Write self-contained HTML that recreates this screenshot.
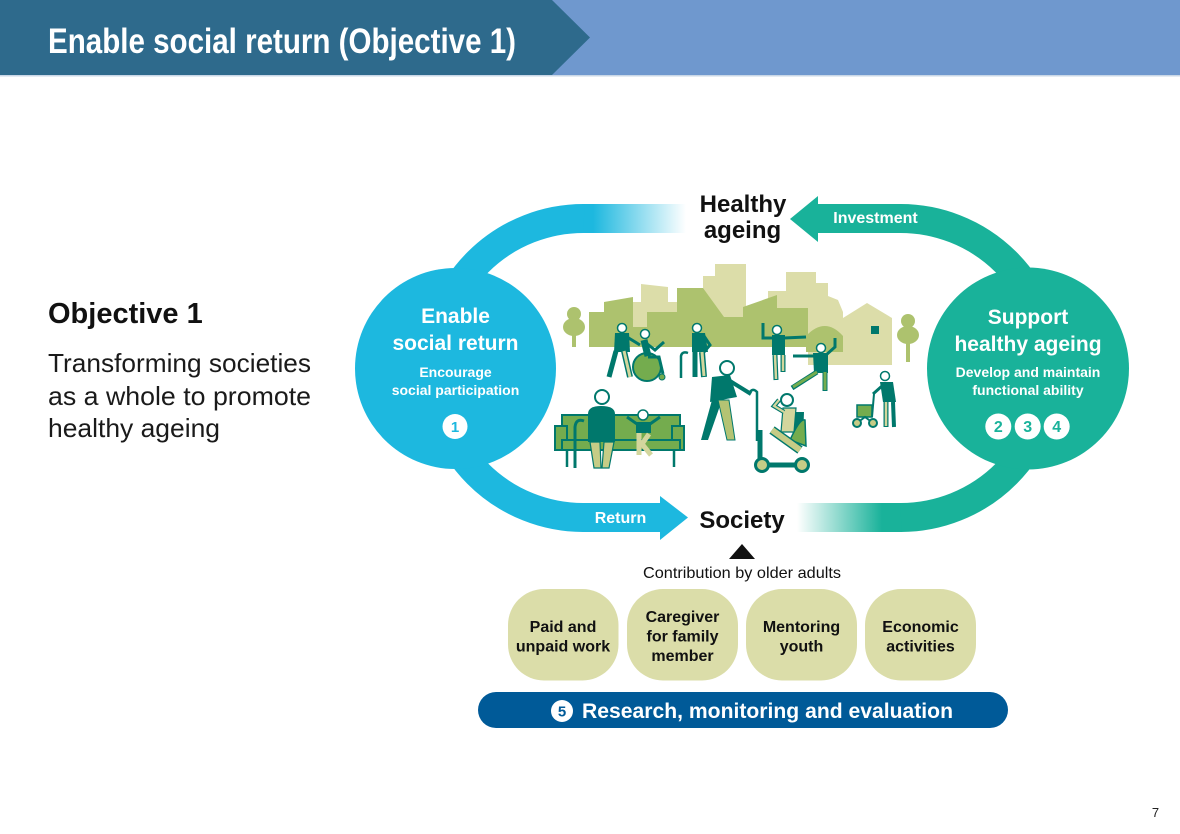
<!DOCTYPE html>
<html>
<head>
<meta charset="utf-8">
<style>
html,body{margin:0;padding:0;background:#fff;}
body{width:1180px;height:834px;overflow:hidden;}
svg{display:block;font-family:"Liberation Sans",Arial,sans-serif;}
</style>
</head>
<body>
<svg width="1180" height="834" viewBox="0 0 1180 834" xmlns="http://www.w3.org/2000/svg">
<defs>
<linearGradient id="gCyan" x1="593" y1="0" x2="686" y2="0" gradientUnits="userSpaceOnUse">
<stop offset="0" stop-color="#1db8df"/>
<stop offset="1" stop-color="#ffffff"/>
</linearGradient>
<linearGradient id="gTeal" x1="797" y1="0" x2="882" y2="0" gradientUnits="userSpaceOnUse">
<stop offset="0" stop-color="#ffffff"/>
<stop offset="1" stop-color="#19b29a"/>
</linearGradient>
</defs>

<!-- Header -->
<rect x="0" y="0" width="1180" height="75" fill="#6f98ce"/>
<polygon points="0,0 552,0 590,37.5 552,75 0,75" fill="#2e6a8c"/>
<rect x="0" y="75" width="1180" height="1.5" fill="#c9d7e7"/>
<text x="48" y="53" font-size="35" font-weight="bold" fill="#ffffff" textLength="468" lengthAdjust="spacingAndGlyphs">Enable social return (Objective 1)</text>

<!-- Left text -->
<text x="48" y="323" font-size="29" font-weight="bold" fill="#111">Objective 1</text>
<text x="48" y="372" font-size="26" fill="#1a1a1a" textLength="263" lengthAdjust="spacingAndGlyphs">Transforming societies</text>
<text x="48" y="405" font-size="26" fill="#1a1a1a" textLength="263" lengthAdjust="spacingAndGlyphs">as a whole to promote</text>
<text x="48" y="437" font-size="26" fill="#1a1a1a" textLength="172" lengthAdjust="spacingAndGlyphs">healthy ageing</text>

<!-- Cyan loop -->
<rect x="582" y="204" width="105" height="29" fill="url(#gCyan)"/>
<path d="M584 218.5 A149.5 149.5 0 0 0 583 517.5 L662 517.5" fill="none" stroke="#1db8df" stroke-width="29"/>
<polygon points="660,496 688,517.5 660,540" fill="#1db8df"/>

<!-- Teal loop -->
<rect x="797" y="503" width="105" height="29" fill="url(#gTeal)"/>
<path d="M816 218.5 L900 218.5 A149.5 149.5 0 0 1 901 517.5" fill="none" stroke="#19b29a" stroke-width="29"/>
<polygon points="790,219 818,196 818,242" fill="#19b29a"/>

<!-- Circles -->
<circle cx="455.5" cy="368.5" r="100.5" fill="#1db8df"/>
<circle cx="1028" cy="368.5" r="101" fill="#19b29a"/>

<!-- Left circle text -->
<g fill="#fff" font-weight="bold" text-anchor="middle">
<text x="455.5" y="323" font-size="21">Enable</text>
<text x="455.5" y="350" font-size="21">social return</text>
<text x="455.5" y="377" font-size="14">Encourage</text>
<text x="455.5" y="395" font-size="14">social participation</text>
</g>
<circle cx="455" cy="426.5" r="12.5" fill="#fff"/>
<text x="455" y="432" font-size="15" font-weight="bold" fill="#1db8df" text-anchor="middle">1</text>

<!-- Right circle text -->
<g fill="#fff" font-weight="bold" text-anchor="middle">
<text x="1028" y="324" font-size="21">Support</text>
<text x="1028" y="351" font-size="21">healthy ageing</text>
<text x="1028" y="377" font-size="14">Develop and maintain</text>
<text x="1028" y="395" font-size="14">functional ability</text>
</g>
<circle cx="998.3" cy="426.5" r="13" fill="#fff"/>
<circle cx="1027.7" cy="426.5" r="13" fill="#fff"/>
<circle cx="1056.7" cy="426.5" r="13" fill="#fff"/>
<g fill="#19b29a" font-size="16" font-weight="bold" text-anchor="middle">
<text x="998.3" y="432">2</text>
<text x="1027.7" y="432">3</text>
<text x="1056.7" y="432">4</text>
</g>

<!-- Labels on arrows -->
<text x="620.5" y="523" font-size="16" font-weight="bold" fill="#fff" text-anchor="middle">Return</text>
<text x="875.5" y="223" font-size="16" font-weight="bold" fill="#fff" text-anchor="middle">Investment</text>

<text x="743" y="212" font-size="24" font-weight="bold" fill="#111" text-anchor="middle">Healthy</text>
<text x="742.5" y="238" font-size="24" font-weight="bold" fill="#111" text-anchor="middle">ageing</text>
<text x="742" y="528" font-size="24" font-weight="bold" fill="#111" text-anchor="middle">Society</text>

<!-- Illustration: skyline -->
<g fill="#dcdda9">
<polygon points="633,302 641,302 641,284 668,287 668,302 677,302 677,327 633,327"/>
<polygon points="703,276 715,276 715,264 746,264 746,318 703,318"/>
<polygon points="768,291 786,291 786,272 816,272 816,283 828,283 828,296 838,300 843,312 843,365 808,365 808,345 768,345"/>
<polygon points="843,318 867,303 892,318 892,365 843,365"/>
</g>
<rect x="871" y="326" width="8" height="8" fill="#00786c"/>
<g fill="#adc26e">
<polygon points="589,347 589,312 604,312 604,302 633,297 633,327 647,327 647,312 677,312 677,288 703,288 724,317 743,317 743,307 777,295 777,308 808,308 808,347"/>
<path d="M806,352 L806,336 Q825,316 843,336 L843,352 Z"/>
<!-- trees -->
<circle cx="574" cy="314" r="7"/>
<ellipse cx="574" cy="327" rx="11" ry="9"/>
<rect x="572" y="330" width="4" height="17"/>
<circle cx="908" cy="321" r="7"/>
<ellipse cx="908" cy="335" rx="11" ry="9"/>
<rect x="906" y="338" width="4" height="24"/>
</g>

<!-- People -->
<g stroke-linecap="butt">
<!-- pusher -->
<polygon points="615,333 629,333 630,352 614,352" fill="#00786c"/>
<line x1="627" y1="337" x2="640" y2="345" stroke="#00786c" stroke-width="3"/>
<line x1="616" y1="351" x2="609" y2="377" stroke="#00786c" stroke-width="5"/>
<line x1="624" y1="351" x2="630" y2="377" stroke="#00786c" stroke-width="6"/>
<line x1="624" y1="351" x2="630" y2="377" stroke="#d3d69d" stroke-width="3"/>
<circle cx="622" cy="328" r="4.5" fill="#fff" stroke="#00786c" stroke-width="1.5"/>
<!-- wheelchair -->
<circle cx="647" cy="367" r="14" fill="#74ac4e" stroke="#00786c" stroke-width="2"/>
<line x1="644" y1="340" x2="648" y2="356" stroke="#00786c" stroke-width="7"/>
<polyline points="646,343 655,350 664,342" fill="none" stroke="#00786c" stroke-width="3"/>
<polyline points="648,357 659,357 663,374" fill="none" stroke="#00786c" stroke-width="3"/>
<circle cx="662" cy="377" r="3" fill="#74ac4e" stroke="#00786c" stroke-width="1"/>
<circle cx="645" cy="334" r="4.5" fill="#fff" stroke="#00786c" stroke-width="1.5"/>
<!-- cane person -->
<polygon points="692,333 705,333 708,352 692,352" fill="#00786c"/>
<polyline points="704,336 710,345 704,352" fill="none" stroke="#00786c" stroke-width="3"/>
<line x1="695" y1="352" x2="695" y2="377" stroke="#00786c" stroke-width="5"/>
<line x1="702" y1="352" x2="704" y2="377" stroke="#00786c" stroke-width="6"/>
<line x1="702" y1="352" x2="704" y2="376" stroke="#d3d69d" stroke-width="3"/>
<path d="M681,378 L681,356 Q682,351 688,353" fill="none" stroke="#00786c" stroke-width="2.5"/>
<circle cx="697" cy="328" r="4.5" fill="#fff" stroke="#00786c" stroke-width="1.5"/>

<!-- bench -->
<rect x="562" y="415" width="118" height="28" fill="#74ac4e" stroke="#00786c" stroke-width="2"/>
<rect x="555" y="426" width="12" height="24" fill="#74ac4e" stroke="#00786c" stroke-width="2"/>
<rect x="672" y="426" width="12" height="24" fill="#74ac4e" stroke="#00786c" stroke-width="2"/>
<rect x="562" y="440" width="118" height="10" fill="#74ac4e" stroke="#00786c" stroke-width="2"/>
<line x1="567" y1="450" x2="567" y2="467" stroke="#00786c" stroke-width="2.5"/>
<line x1="674" y1="450" x2="674" y2="467" stroke="#00786c" stroke-width="2.5"/>
<!-- sitting man -->
<path d="M588,442 L588,414 Q588,406 601,406 Q615,406 615,414 L615,442 Z" fill="#00786c"/>
<polygon points="590,442 600,442 601,468 594,468" fill="#c5cc86" stroke="#00786c" stroke-width="1.2"/>
<polygon points="604,442 614,442 609,468 602,468" fill="#c5cc86" stroke="#00786c" stroke-width="1.2"/>
<path d="M575,468 L575,427 Q576,418 584,421" fill="none" stroke="#00786c" stroke-width="3"/>
<circle cx="602" cy="397" r="7" fill="#fff" stroke="#00786c" stroke-width="2"/>
<!-- child -->
<rect x="636" y="422" width="15" height="11" fill="#00786c"/>
<line x1="637" y1="424" x2="627" y2="417" stroke="#00786c" stroke-width="3"/>
<line x1="650" y1="424" x2="660" y2="417" stroke="#00786c" stroke-width="3"/>
<polyline points="639,433 639,455" fill="none" stroke="#d3d69d" stroke-width="5"/>
<polyline points="649,434 642,444 651,455" fill="none" stroke="#d3d69d" stroke-width="5"/>
<circle cx="643" cy="415" r="5" fill="#fff" stroke="#00786c" stroke-width="1.5"/>

<!-- walking old man -->
<polygon points="712,377 730,375 737,397 710,402" fill="#00786c"/>
<line x1="730" y1="381" x2="751" y2="394" stroke="#00786c" stroke-width="4"/>
<path d="M749,394 Q752,387 757,392 L757,441" fill="none" stroke="#00786c" stroke-width="2.5"/>
<polygon points="712,400 722,400 708,440 701,440" fill="#00786c"/>
<polygon points="718,400 729,400 735,440 727,440" fill="#b4c373" stroke="#00786c" stroke-width="1"/>
<circle cx="727" cy="368" r="7" fill="#fff" stroke="#00786c" stroke-width="2"/>

<!-- tai chi 1 -->
<rect x="772" y="335" width="13" height="20" fill="#00786c"/>
<polyline points="774,338 763,338 763,323" fill="none" stroke="#00786c" stroke-width="3"/>
<line x1="784" y1="338" x2="806" y2="337" stroke="#00786c" stroke-width="3"/>
<line x1="775" y1="355" x2="776" y2="380" stroke="#00786c" stroke-width="5"/>
<line x1="775" y1="355" x2="776" y2="379" stroke="#d3d69d" stroke-width="2.5"/>
<line x1="783" y1="355" x2="783" y2="372" stroke="#00786c" stroke-width="5"/>
<line x1="783" y1="355" x2="783" y2="371" stroke="#d3d69d" stroke-width="2.5"/>
<circle cx="777" cy="330" r="4.5" fill="#fff" stroke="#00786c" stroke-width="1.5"/>
<!-- tai chi 2 -->
<polygon points="813,353 828,353 828,373 814,373" fill="#00786c"/>
<line x1="815" y1="356" x2="793" y2="356" stroke="#00786c" stroke-width="3"/>
<polyline points="826,355 835,347 835,338" fill="none" stroke="#00786c" stroke-width="3"/>
<line x1="817" y1="372" x2="792" y2="388" stroke="#00786c" stroke-width="5"/>
<line x1="817" y1="372" x2="793" y2="387" stroke="#74ac4e" stroke-width="3"/>
<line x1="825" y1="372" x2="825" y2="391" stroke="#00786c" stroke-width="5"/>
<line x1="825" y1="372" x2="825" y2="390" stroke="#74ac4e" stroke-width="3"/>
<circle cx="821" cy="348" r="4.5" fill="#fff" stroke="#00786c" stroke-width="1.5"/>

<!-- scooter person -->
<polygon points="794,412 804,412 803,440 792,440" fill="#00786c"/>
<path d="M790,440 Q800,418 805,420 L806,446 Z" fill="#74ac4e" stroke="#00786c" stroke-width="1.5"/>
<polygon points="783,408 796,408 794,432 781,432" fill="#d3d69d" stroke="#00786c" stroke-width="1.2"/>
<polyline points="784,412 774,406 779,400" fill="none" stroke="#00786c" stroke-width="4.5"/>
<polyline points="784,412 774,406 779,400" fill="none" stroke="#d3d69d" stroke-width="2.2"/>
<line x1="772" y1="430" x2="800" y2="450" stroke="#00786c" stroke-width="9"/>
<line x1="772" y1="430" x2="800" y2="450" stroke="#c5cc86" stroke-width="6"/>
<polyline points="760,430 760,465 804,465" fill="none" stroke="#00786c" stroke-width="5"/>
<circle cx="762" cy="465" r="6.5" fill="#c5cc86" stroke="#00786c" stroke-width="3"/>
<circle cx="802" cy="465" r="6.5" fill="#c5cc86" stroke="#00786c" stroke-width="3"/>
<circle cx="787" cy="400" r="6" fill="#fff" stroke="#00786c" stroke-width="2"/>

<!-- walker person -->
<polygon points="880,382 893,382 896,402 883,402" fill="#00786c"/>
<line x1="882" y1="386" x2="873" y2="394" stroke="#00786c" stroke-width="3"/>
<line x1="886" y1="402" x2="886" y2="427" stroke="#00786c" stroke-width="5"/>
<line x1="886" y1="402" x2="886" y2="426" stroke="#d3d69d" stroke-width="2.5"/>
<line x1="893" y1="402" x2="894" y2="427" stroke="#00786c" stroke-width="4"/>
<rect x="857" y="405" width="15" height="12" fill="#74ac4e" stroke="#00786c" stroke-width="1.5"/>
<polyline points="857,423 865,417 873,423" fill="none" stroke="#00786c" stroke-width="2"/>
<line x1="872" y1="417" x2="874" y2="394" stroke="#00786c" stroke-width="2"/>
<circle cx="857" cy="423" r="4" fill="#c5cc86" stroke="#00786c" stroke-width="2"/>
<circle cx="873" cy="423" r="4" fill="#c5cc86" stroke="#00786c" stroke-width="2"/>
<circle cx="885" cy="376" r="4.5" fill="#fff" stroke="#00786c" stroke-width="1.5"/>
</g>

<!-- Contribution -->
<polygon points="729,559 742,544 755,559" fill="#111"/>
<text x="742" y="578" font-size="16" fill="#111" text-anchor="middle" textLength="198" lengthAdjust="spacingAndGlyphs">Contribution by older adults</text>

<g fill="#dbdda9">
<rect x="508" y="589" width="110.5" height="91.5" rx="36" ry="36"/>
<rect x="627" y="589" width="111" height="91.5" rx="36" ry="36"/>
<rect x="746" y="589" width="111" height="91.5" rx="36" ry="36"/>
<rect x="865" y="589" width="111" height="91.5" rx="36" ry="36"/>
</g>
<g fill="#111" font-size="16" font-weight="bold" text-anchor="middle">
<text x="563" y="632">Paid and</text>
<text x="563" y="651.5">unpaid work</text>
<text x="682.5" y="622">Caregiver</text>
<text x="682.5" y="641.5">for family</text>
<text x="682.5" y="661">member</text>
<text x="801.5" y="632">Mentoring</text>
<text x="801.5" y="651.5">youth</text>
<text x="920.5" y="632">Economic</text>
<text x="920.5" y="651.5">activities</text>
</g>

<!-- Research bar -->
<rect x="478" y="692" width="530" height="36" rx="18" ry="18" fill="#005a98"/>
<circle cx="562" cy="711" r="11" fill="#fff"/>
<text x="562" y="716.5" font-size="15" font-weight="bold" fill="#005a98" text-anchor="middle">5</text>
<text x="582" y="718" font-size="21" font-weight="bold" fill="#fff" textLength="371" lengthAdjust="spacingAndGlyphs">Research, monitoring and evaluation</text>

<!-- page number -->
<text x="1155.5" y="817" font-size="13" fill="#222" text-anchor="middle">7</text>
</svg>
</body>
</html>
